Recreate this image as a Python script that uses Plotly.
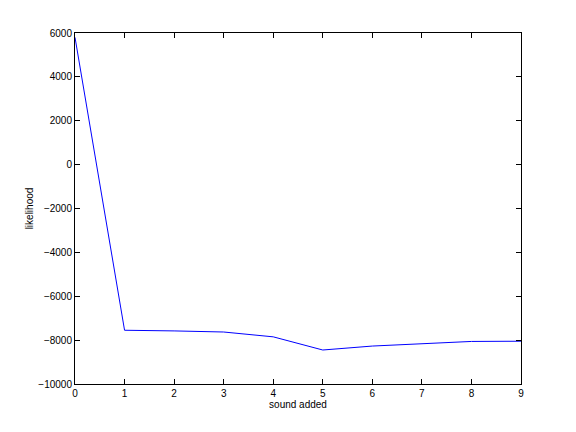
import plotly.graph_objects as go

sounds_added = [0, 1, 2, 3, 4, 5, 6, 7, 8, 9]
likelihood = [5800, -7550, -7580, -7630, -7850, -8450, -8270, -8180, -8060, -8050]

x_ticks = [0, 1, 2, 3, 4, 5, 6, 7, 8, 9]
y_ticks = [-10000, -8000, -6000, -4000, -2000, 0, 2000, 4000, 6000]

fig = go.Figure()
fig.add_trace(go.Scatter(x=sounds_added, y=likelihood, mode="lines",
                         line=dict(color="#0000ff", width=1)))

axis_common = dict(showgrid=False, zeroline=False, showline=True, linecolor="black",
                   linewidth=1, mirror="ticks", ticks="inside", ticklen=5,
                   tickcolor="black", tickwidth=1,
                   tickfont=dict(family="Liberation Sans, Arial, sans-serif", size=10, color="black"))

fig.update_layout(
    width=576, height=432,
    margin=dict(l=75, r=55, t=33, b=48),
    paper_bgcolor="white", plot_bgcolor="white",
    showlegend=False,
    font=dict(family="Liberation Sans, Arial, sans-serif", size=10, color="black"),
    xaxis=dict(range=[0, 9], tickvals=x_ticks, ticktext=[str(v) for v in x_ticks],
               title=dict(text="sound added", standoff=2,
                          font=dict(family="Liberation Sans, Arial, sans-serif", size=10)),
               **axis_common),
    yaxis=dict(range=[-10000, 6000], tickvals=y_ticks,
               ticktext=[str(v).replace("-", "\u2212") for v in y_ticks],
               title=dict(text="likelihood", standoff=2,
                          font=dict(family="Liberation Sans, Arial, sans-serif", size=10)),
               **axis_common),
)

fig.write_html("out.html", config={"displayModeBar": False},
               post_script="document.body.style.margin='0px';document.body.style.overflow='hidden';")
